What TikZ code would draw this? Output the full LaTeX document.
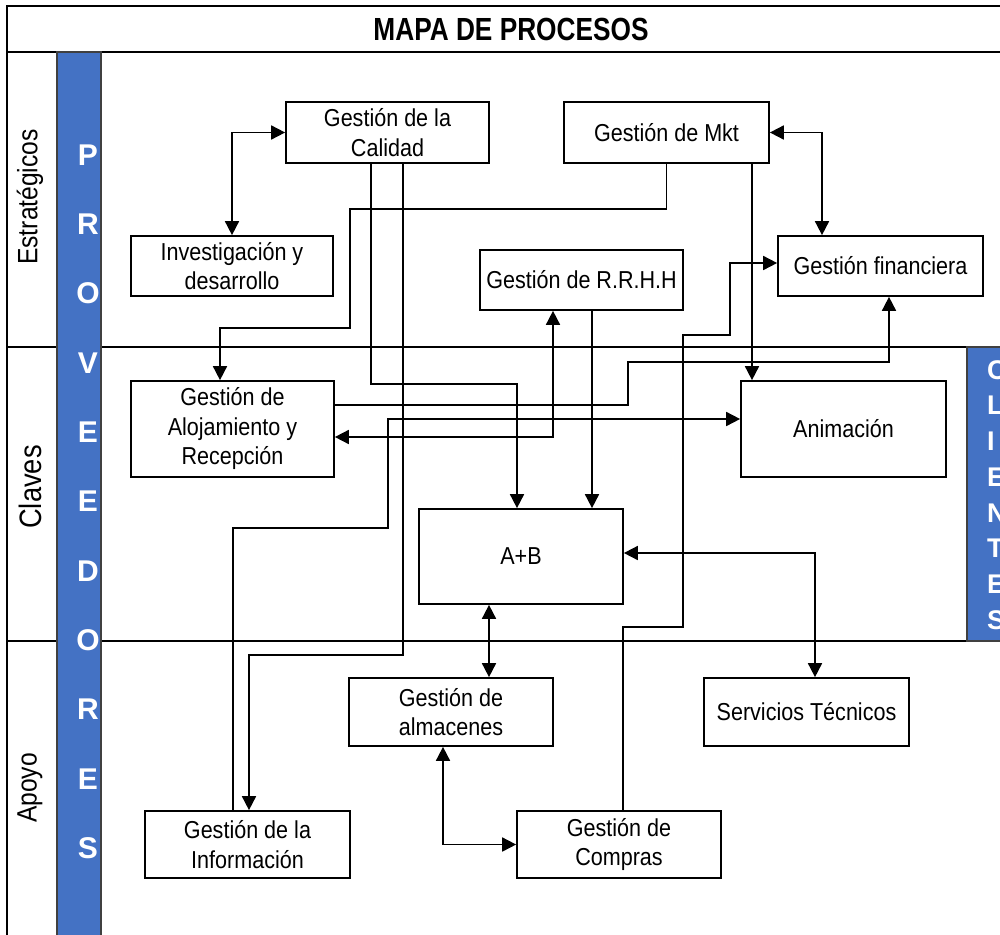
\documentclass[tikz,border=0pt]{standalone}
\usepackage{fontspec}
\setmainfont{Liberation Sans}
\newfontfamily\nar[FakeStretch=0.88]{Liberation Sans}
\newfontfamily\ttl[FakeStretch=0.82]{Liberation Sans}
\usetikzlibrary{arrows.meta,calc}
\definecolor{barblue}{RGB}{68,114,196}
\begin{document}
\begin{tikzpicture}[x=1pt,y=-1pt,
 box/.style={draw,line width=1.7pt,align=center,inner sep=0pt,font=\nar\fontsize{24.5}{29.5}\selectfont},
 conn/.style={line width=1.7pt},
 arr/.style={conn,-{Triangle[length=14pt,width=14pt]}},
 both/.style={conn,{Triangle[length=14pt,width=14pt]}-{Triangle[length=14pt,width=14pt]}},
 frame/.style={line width=1.6pt},
 bar/.style={fill=barblue,draw=black!75,line width=1.2pt},
 letter/.style={text=white,font=\bfseries\fontsize{30}{30}\selectfont,inner sep=0pt},
 cletter/.style={text=white,font=\bfseries\fontsize{27}{27}\selectfont,inner sep=0pt,anchor=west},
 band/.style={rotate=90,font=\nar\fontsize{28}{28}\selectfont,inner sep=0pt}]
\useasboundingbox (0,0) rectangle (1000,934);
% frame and bands
\draw[frame] (7,6) rectangle (1012,950);
\draw[frame] (7,52) -- (1000,52);
\draw[frame] (7,347) -- (1000,347);
\draw[frame] (7,641) -- (967,641);
\node[font=\ttl\bfseries\fontsize{32}{36}\selectfont,inner sep=0pt] (title) at (511,29) {MAPA DE PROCESOS};
\draw[bar] (57,52) rectangle (101,945);
\draw[bar] (967,347) rectangle (1012,641);
\foreach \l [count=\i] in {P,R,O,V,E,E,D,O,R,E,S}
  \node[letter] (prov\i) at (88,{155+69.3*(\i-1)}) {\l};
\foreach \l [count=\i] in {C,L,I,E,N,T,E,S}
  \node[cletter] (cli\i) at (987,{370+35.7*(\i-1)}) {\l};
\node[band] (estr) at (30,197) {Estratégicos};
\node[band,font=\nar\fontsize{31}{31}\selectfont] (clav) at (30,487) {Claves};
\node[band] (apoy) at (30,788) {Apoyo};
% boxes
\node[box,minimum width=203pt,minimum height=61pt] (calidad) at (387.5,132.5) {Gestión de la\\Calidad};
\node[box,minimum width=205pt,minimum height=61pt] (mkt) at (666.5,132.5) {Gestión de Mkt};
\node[box,minimum width=202pt,minimum height=60pt] (inv) at (232,266) {Investigación y\\desarrollo};
\node[box,minimum width=203pt,minimum height=60pt] (rrhh) at (581.5,280) {Gestión de R.R.H.H};
\node[box,minimum width=205pt,minimum height=60pt] (fin) at (880.5,266) {Gestión financiera};
\node[box,minimum width=203pt,minimum height=96pt] (aloj) at (232.5,429) {Gestión de\\Alojamiento y\\Recepción};
\node[box,minimum width=205pt,minimum height=96pt] (anim) at (843.5,429) {Animación};
\node[box,minimum width=204pt,minimum height=95pt] (ab) at (521,556.5) {A+B};
\node[box,minimum width=204pt,minimum height=68pt] (alm) at (451,712) {Gestión de\\almacenes};
\node[box,minimum width=205pt,minimum height=68pt] (serv) at (806.5,712) {Servicios Técnicos};
\node[box,minimum width=205pt,minimum height=67pt] (info) at (247.5,844.5) {Gestión de la\\Información};
\node[box,minimum width=204pt,minimum height=67pt] (compras) at (619,844.5) {Gestión de\\Compras};
% connectors
\draw[both] (inv.north) |- (calidad.west);
\draw[both] (mkt.east) -| ([xshift=-58.5pt]fin.north);
\draw[arr] (mkt.south) |- (350,209) |- (220,328) -- ([xshift=-12.5pt]aloj.north);
\draw[arr] ([xshift=-16.5pt]calidad.south) |- (517,384) -- ([xshift=-4pt]ab.north);
\draw[arr] ([xshift=15.5pt]calidad.south) |- (249,655) -- ([xshift=1.5pt]info.north);
\draw[arr] ([xshift=10.5pt]rrhh.south) -- ([xshift=71pt]ab.north);
\draw[both] ([yshift=-8pt]aloj.east) -| ([xshift=-28.5pt]rrhh.south);
\draw[arr] ([yshift=24pt]aloj.east) -| (628,362) -| ([xshift=8.5pt]fin.south);
\draw[arr] ([xshift=-14.5pt]info.north) |- (388,528) |- ([yshift=10pt]anim.west);
\draw[arr] ([xshift=85.5pt]mkt.south) -- ([xshift=-91.5pt]anim.north);
\draw[arr] ([xshift=4pt]compras.north) |- (683,627) |- (730,335) |- ([yshift=3pt]fin.west);
\draw[both] ([yshift=3.5pt]ab.east) -| ([xshift=8.5pt]serv.north);
\draw[both] ([xshift=-32pt]ab.south) -- ([xshift=38pt]alm.north);
\draw[both] ([xshift=-8pt]alm.south) |- (compras.west);
\end{tikzpicture}
\end{document}
